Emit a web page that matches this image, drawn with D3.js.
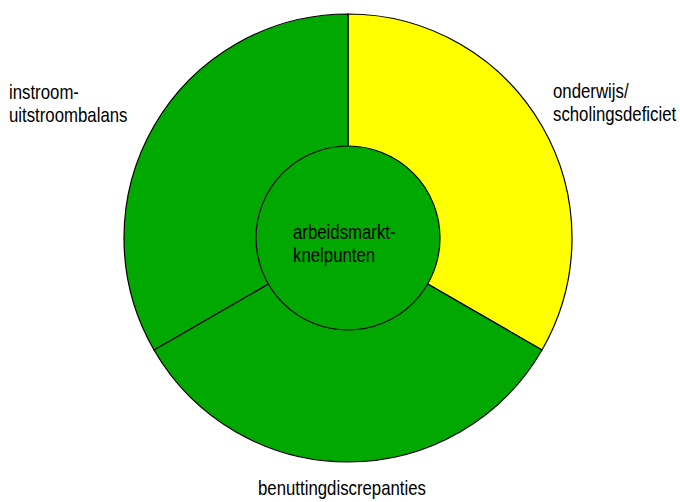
<!DOCTYPE html>
<html><head><meta charset="utf-8">
<script src="https://cdn.jsdelivr.net/npm/d3@7"></script>
<style>
html,body{margin:0;padding:0;background:#fff;}
text{font-family:"Liberation Sans",Arial,sans-serif;font-size:20px;fill:#000;}
</style></head>
<body>
<svg id="chart" width="680" height="502"></svg>
<script>
const categories = ["onderwijs/\nscholingsdeficiet", "benuttingdiscrepanties", "instroom-\nuitstroombalans"];
const values = [1, 1, 1];
const colors = ["#ffff00", "#00a800", "#00a800"];
const centerLabel = ["arbeidsmarkt-", "knelpunten"];
const centerColor = "#00a800";

const svg = d3.select("#chart");
const cx = 348, cy = 238, R = 224, r0 = 92;
const narrow = 0.84, lineH = 23;
const g = svg.append("g").attr("transform", `translate(${cx},${cy})`);

const pie = d3.pie().sort(null).value(d => d)(values);
const arc = d3.arc().innerRadius(0).outerRadius(R);
g.selectAll("path.slice").data(pie).enter().append("path")
  .attr("class","slice")
  .attr("d", arc)
  .attr("fill", (d,i) => colors[i])
  .attr("stroke", "#000").attr("stroke-width", 1.2);

g.append("circle").attr("r", r0).attr("fill", centerColor)
  .attr("stroke", "#000").attr("stroke-width", 1.2);

function label(lines, x, y) {
  const t = svg.append("text").attr("transform", `translate(${x},${y}) scale(${narrow},1)`);
  lines.forEach((l, j) => t.append("tspan").attr("x", 0).attr("y", j * lineH).text(l));
}

label(centerLabel, 293, 239);

const labelPos = [[553, 98], [258, 495], [9, 99]];
categories.forEach((c, i) => label(c.split("\n"), labelPos[i][0], labelPos[i][1]));
</script>
</body></html>
